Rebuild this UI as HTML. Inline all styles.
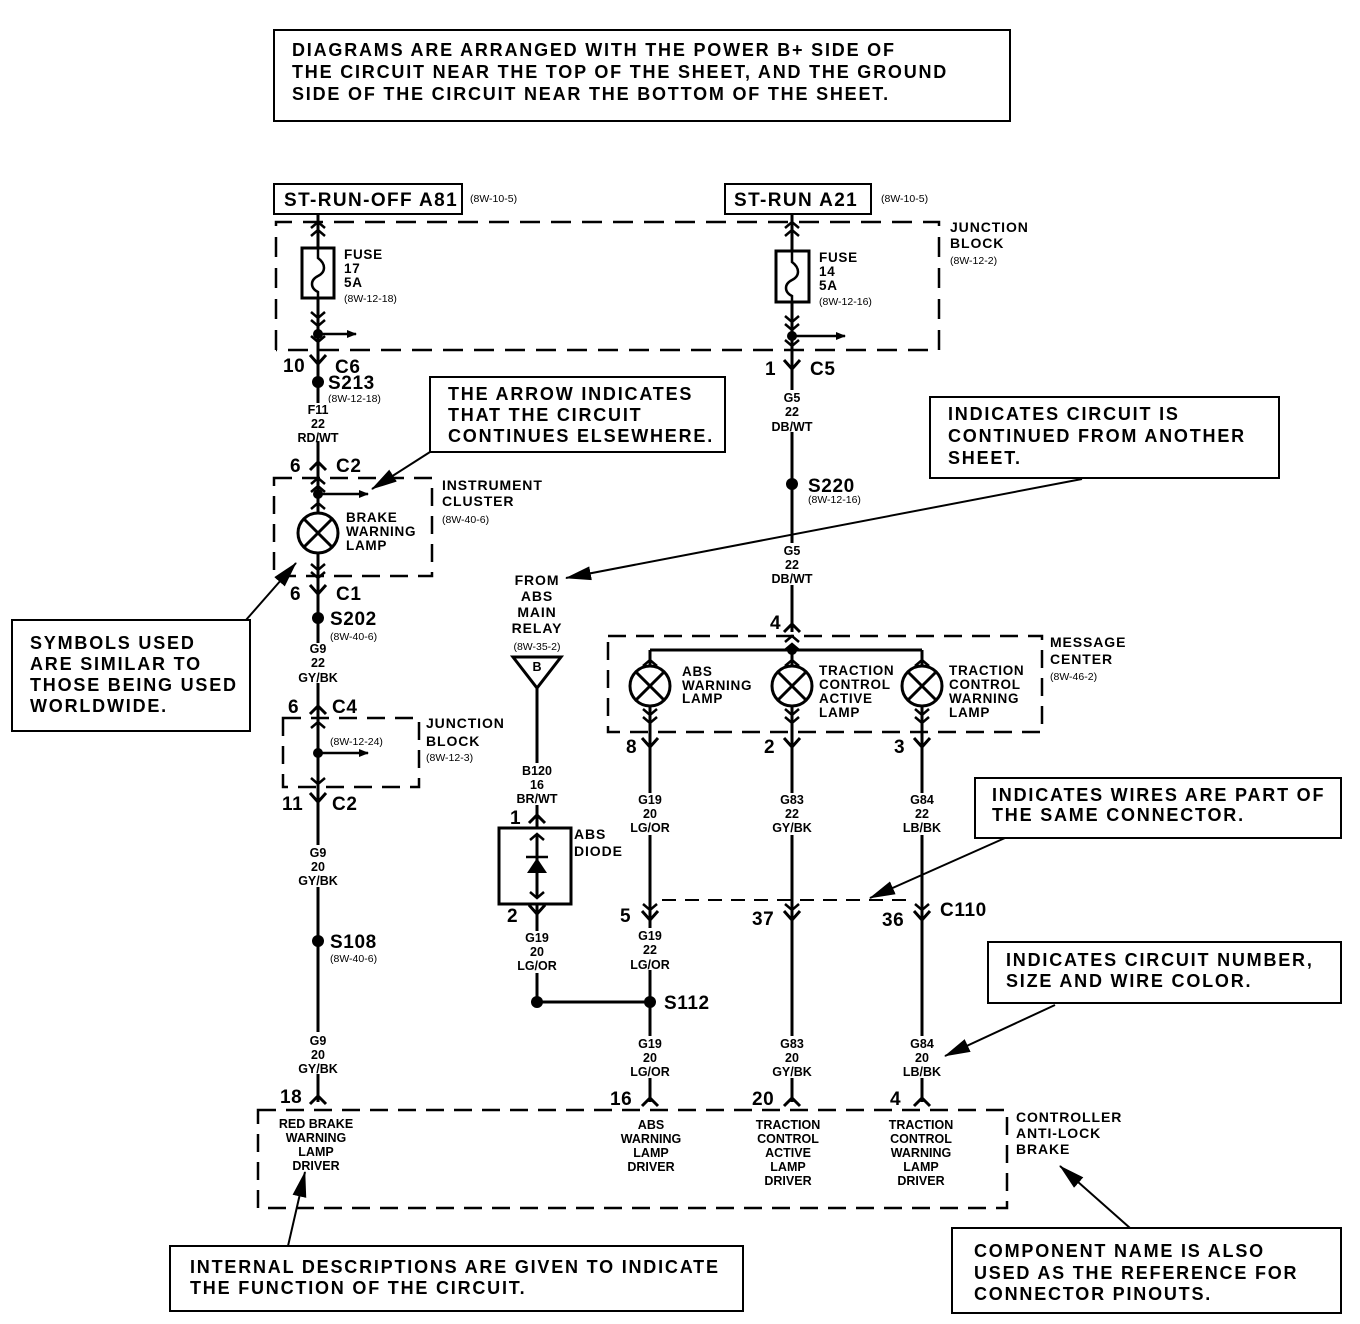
<!DOCTYPE html>
<html><head><meta charset="utf-8"><style>
html,body{margin:0;padding:0;background:#fff}
svg{display:block}
text{font-family:"Liberation Sans",Arial,sans-serif;font-weight:bold;fill:#000}
.c{font-size:18px;letter-spacing:1.8px}
.l{font-size:14px;letter-spacing:0.9px}
.m{font-size:13.5px;letter-spacing:0.7px}
.n{font-size:12.5px}
.s{font-size:10.5px;font-weight:normal}
.big{font-size:19px;letter-spacing:0.6px}
.hd{font-size:19px;letter-spacing:1.4px}
.mid{text-anchor:middle}
.w{stroke:#000;stroke-width:3;fill:none}
.t{stroke:#000;stroke-width:2;fill:none}
.d{stroke:#000;stroke-width:2.5;fill:none;stroke-dasharray:20 11}
.b{stroke:#000;stroke-width:2;fill:#fff}
</style></head><body>
<svg width="1360" height="1324" viewBox="0 0 1360 1324" xmlns="http://www.w3.org/2000/svg">
<defs>
<path id="fy" d="M-8,-9 L0,0 L8,-9" stroke="#000" stroke-width="3" fill="none"/>
<path id="lam" d="M-8,8 L0,0 L8,8" stroke="#000" stroke-width="3" fill="none"/>
<path id="up" d="M-7,6 L0,0 L7,6" stroke="#000" stroke-width="2.5" fill="none"/>
<path id="dn" d="M-7,-6 L0,0 L7,-6" stroke="#000" stroke-width="2.5" fill="none"/>
<g id="lamp"><circle r="20" fill="#fff" stroke="#000" stroke-width="3"/><path d="M-14,-14 L14,14 M14,-14 L-14,14" stroke="#000" stroke-width="3"/></g>
<marker id="ah" markerWidth="10" markerHeight="8" refX="9" refY="4" orient="auto" markerUnits="userSpaceOnUse"><path d="M0,0 L10,4 L0,8z" fill="#000"/></marker>
<marker id="ab" markerWidth="26" markerHeight="14" refX="25" refY="7" orient="auto" markerUnits="userSpaceOnUse"><path d="M0,0 L26,7 L0,14z" fill="#000"/></marker>
</defs>

<!-- top note -->
<rect x="274" y="30" width="736" height="91" class="b"/>
<text class="c" x="292" y="56">DIAGRAMS ARE ARRANGED WITH THE POWER B+ SIDE OF</text>
<text class="c" x="292" y="78">THE CIRCUIT NEAR THE TOP OF THE SHEET, AND THE GROUND</text>
<text class="c" x="292" y="100">SIDE OF THE CIRCUIT NEAR THE BOTTOM OF THE SHEET.</text>

<!-- source boxes -->
<rect x="274" y="184" width="188" height="30" class="b"/>
<text class="hd" x="284" y="206">ST-RUN-OFF A81</text>
<text class="s" x="470" y="202">(8W-10-5)</text>
<rect x="725" y="184" width="146" height="30" class="b"/>
<text class="hd" x="734" y="206">ST-RUN A21</text>
<text class="s" x="881" y="202">(8W-10-5)</text>

<!-- junction block top -->
<path class="d" d="M276,350 L276,222 L939,222 L939,350 L276,350"/>
<text class="l" x="950" y="232">JUNCTION</text>
<text class="l" x="950" y="248">BLOCK</text>
<text class="s" x="950" y="264">(8W-12-2)</text>

<!-- left wire main -->
<line class="w" x1="318" y1="214" x2="318" y2="1102"/>
<use href="#up" x="318" y="222"/><use href="#up" x="318" y="230"/>
<rect x="302" y="248" width="32" height="50" class="b" style="stroke-width:3"/>
<path class="t" d="M318,248 L318,258 C326,264 326,272 318,276 C310,280 310,288 318,292 L318,298" style="stroke-width:2.5"/>
<text class="m" x="344" y="259">FUSE</text><text class="m" x="344" y="273">17</text><text class="m" x="344" y="287">5A</text>
<text class="s" x="344" y="302">(8W-12-18)</text>
<use href="#dn" x="318" y="318"/><use href="#dn" x="318" y="326"/><use href="#dn" x="318" y="342"/>
<circle cx="318" cy="334" r="5"/>
<line class="t" x1="318" y1="334" x2="356" y2="334" marker-end="url(#ah)" style="stroke-width:2.5"/>
<use href="#fy" x="318" y="364"/>
<text class="big" x="283" y="372">10</text><text class="big" x="335" y="373">C6</text>
<circle cx="318" cy="382" r="6"/>
<text class="big" x="328" y="389">S213</text>
<text class="s" x="328" y="402">(8W-12-18)</text>
<rect x="300" y="403" width="36" height="38" fill="#fff"/>
<text class="n mid" x="318" y="414">F11</text><text class="n mid" x="318" y="428">22</text><text class="n mid" x="318" y="442">RD/WT</text>
<use href="#lam" x="318" y="462"/>
<text class="big" x="290" y="472">6</text><text class="big" x="336" y="472">C2</text>
<path class="d" d="M274,478 L432,478 L432,576 L274,576 Z" style="stroke-dasharray:18 10"/>
<use href="#up" x="318" y="478"/><use href="#up" x="318" y="486"/>
<circle cx="318" cy="494" r="5"/>
<line class="t" x1="318" y1="494" x2="368" y2="494" marker-end="url(#ah)" style="stroke-width:2.5"/>
<use href="#up" x="318" y="503"/>
<use href="#lamp" x="318" y="533"/>
<text class="m" x="346" y="522">BRAKE</text><text class="m" x="346" y="536">WARNING</text><text class="m" x="346" y="550">LAMP</text>
<text class="l" x="442" y="490">INSTRUMENT</text><text class="l" x="442" y="506">CLUSTER</text>
<text class="s" x="442" y="523">(8W-40-6)</text>
<use href="#dn" x="318" y="570"/><use href="#dn" x="318" y="578"/>
<use href="#fy" x="318" y="594"/>
<text class="big" x="290" y="600">6</text><text class="big" x="336" y="600">C1</text>
<circle cx="318" cy="618" r="6"/>
<text class="big" x="330" y="625">S202</text>
<text class="s" x="330" y="640">(8W-40-6)</text>
<rect x="300" y="643" width="36" height="40" fill="#fff"/>
<text class="n mid" x="318" y="653">G9</text><text class="n mid" x="318" y="667">22</text><text class="n mid" x="318" y="682">GY/BK</text>
<use href="#lam" x="318" y="706"/>
<text class="big" x="288" y="713">6</text><text class="big" x="332" y="713">C4</text>
<path class="d" d="M283,718 L419,718 L419,787 L283,787 Z" style="stroke-dasharray:18 10"/>
<use href="#up" x="318" y="722"/>
<text class="s" x="330" y="745">(8W-12-24)</text>
<circle cx="318" cy="753" r="5"/>
<line class="t" x1="318" y1="753" x2="368" y2="753" marker-end="url(#ah)" style="stroke-width:2.5"/>
<use href="#dn" x="318" y="784"/>
<text class="l" x="426" y="728">JUNCTION</text><text class="l" x="426" y="746">BLOCK</text>
<text class="s" x="426" y="761">(8W-12-3)</text>
<use href="#fy" x="318" y="802"/>
<text class="big" x="282" y="810">11</text><text class="big" x="332" y="810">C2</text>
<rect x="300" y="845" width="36" height="42" fill="#fff"/>
<text class="n mid" x="318" y="857">G9</text><text class="n mid" x="318" y="871">20</text><text class="n mid" x="318" y="885">GY/BK</text>
<circle cx="318" cy="941" r="6"/>
<text class="big" x="330" y="948">S108</text>
<text class="s" x="330" y="962">(8W-40-6)</text>
<rect x="300" y="1032" width="36" height="42" fill="#fff"/>
<text class="n mid" x="318" y="1045">G9</text><text class="n mid" x="318" y="1059">20</text><text class="n mid" x="318" y="1073">GY/BK</text>
<use href="#lam" x="318" y="1096"/>
<text class="big" x="280" y="1103">18</text>

<!-- right wire -->
<line class="w" x1="792" y1="214" x2="792" y2="632"/>
<use href="#up" x="792" y="222"/><use href="#up" x="792" y="230"/>
<rect x="776" y="251" width="33" height="51" class="b" style="stroke-width:3"/>
<path class="t" d="M792,251 L792,262 C800,268 800,276 792,280 C784,284 784,292 792,296 L792,302" style="stroke-width:2.5"/>
<text class="m" x="819" y="262">FUSE</text><text class="m" x="819" y="276">14</text><text class="m" x="819" y="290">5A</text>
<text class="s" x="819" y="305">(8W-12-16)</text>
<use href="#dn" x="792" y="322"/><use href="#dn" x="792" y="330"/><use href="#dn" x="792" y="346"/>
<circle cx="792" cy="336" r="5"/>
<line class="t" x1="792" y1="336" x2="845" y2="336" marker-end="url(#ah)" style="stroke-width:2.5"/>
<use href="#fy" x="792" y="369"/>
<text class="big" x="765" y="375">1</text><text class="big" x="810" y="375">C5</text>
<rect x="770" y="390" width="44" height="42" fill="#fff"/>
<text class="n mid" x="792" y="402">G5</text><text class="n mid" x="792" y="416">22</text><text class="n mid" x="792" y="431">DB/WT</text>
<circle cx="792" cy="484" r="6"/>
<text class="big" x="808" y="492">S220</text>
<text class="s" x="808" y="503">(8W-12-16)</text>
<rect x="770" y="543" width="44" height="42" fill="#fff"/>
<text class="n mid" x="792" y="555">G5</text><text class="n mid" x="792" y="569">22</text><text class="n mid" x="792" y="583">DB/WT</text>
<use href="#lam" x="792" y="624"/>
<text class="big" x="770" y="629">4</text>

<!-- message center -->
<path class="d" d="M608,636 L1042,636 L1042,732 L608,732 Z" style="stroke-dasharray:18 10"/>
<use href="#up" x="792" y="636"/><use href="#up" x="792" y="644"/>
<line class="w" x1="650" y1="650" x2="922" y2="650"/>
<circle cx="792" cy="650" r="5"/>
<line class="w" x1="650" y1="650" x2="650" y2="905"/>
<line class="w" x1="922" y1="650" x2="922" y2="1102"/>
<line class="w" x1="792" y1="650" x2="792" y2="1102"/>
<line class="w" x1="650" y1="905" x2="650" y2="1102"/>
<use href="#up" x="650" y="660"/><use href="#up" x="792" y="660"/><use href="#up" x="922" y="660"/>
<use href="#lamp" x="650" y="686"/><use href="#lamp" x="792" y="686"/><use href="#lamp" x="922" y="686"/>
<use href="#dn" x="650" y="715"/><use href="#dn" x="650" y="723"/>
<use href="#dn" x="792" y="715"/><use href="#dn" x="792" y="723"/>
<use href="#dn" x="922" y="715"/><use href="#dn" x="922" y="723"/>
<text class="m" x="682" y="676">ABS</text><text class="m" x="682" y="690">WARNING</text><text class="m" x="682" y="703">LAMP</text>
<text class="m" x="819" y="675">TRACTION</text><text class="m" x="819" y="689">CONTROL</text><text class="m" x="819" y="703">ACTIVE</text><text class="m" x="819" y="717">LAMP</text>
<text class="m" x="949" y="675">TRACTION</text><text class="m" x="949" y="689">CONTROL</text><text class="m" x="949" y="703">WARNING</text><text class="m" x="949" y="717">LAMP</text>
<text class="l" x="1050" y="647">MESSAGE</text><text class="l" x="1050" y="664">CENTER</text>
<text class="s" x="1050" y="680">(8W-46-2)</text>
<use href="#fy" x="650" y="747"/><use href="#fy" x="792" y="747"/><use href="#fy" x="922" y="747"/>
<text class="big" x="626" y="753">8</text><text class="big" x="764" y="753">2</text><text class="big" x="894" y="753">3</text>
<rect x="628" y="793" width="44" height="42" fill="#fff"/>
<rect x="770" y="793" width="44" height="42" fill="#fff"/>
<rect x="900" y="793" width="44" height="42" fill="#fff"/>
<text class="n mid" x="650" y="804">G19</text><text class="n mid" x="650" y="818">20</text><text class="n mid" x="650" y="832">LG/OR</text>
<text class="n mid" x="792" y="804">G83</text><text class="n mid" x="792" y="818">22</text><text class="n mid" x="792" y="832">GY/BK</text>
<text class="n mid" x="922" y="804">G84</text><text class="n mid" x="922" y="818">22</text><text class="n mid" x="922" y="832">LB/BK</text>
<!-- C110 -->
<line class="t" x1="662" y1="900" x2="912" y2="900" style="stroke-dasharray:14 9"/>
<use href="#dn" x="650" y="910"/><use href="#fy" x="650" y="920"/>
<use href="#dn" x="792" y="910"/><use href="#fy" x="792" y="920"/>
<use href="#dn" x="922" y="910"/><use href="#fy" x="922" y="920"/>
<text class="big" x="620" y="922">5</text><text class="big" x="752" y="925">37</text><text class="big" x="882" y="926">36</text>
<text class="big" x="940" y="916">C110</text>
<rect x="628" y="928" width="44" height="42" fill="#fff"/>
<text class="n mid" x="650" y="940">G19</text><text class="n mid" x="650" y="954">22</text><text class="n mid" x="650" y="969">LG/OR</text>
<line class="w" x1="537" y1="1002" x2="650" y2="1002"/>
<circle cx="537" cy="1002" r="6"/><circle cx="650" cy="1002" r="6"/>
<text class="big" x="664" y="1009">S112</text>
<rect x="628" y="1036" width="44" height="42" fill="#fff"/>
<rect x="770" y="1036" width="44" height="42" fill="#fff"/>
<rect x="900" y="1036" width="44" height="42" fill="#fff"/>
<text class="n mid" x="650" y="1048">G19</text><text class="n mid" x="650" y="1062">20</text><text class="n mid" x="650" y="1076">LG/OR</text>
<text class="n mid" x="792" y="1048">G83</text><text class="n mid" x="792" y="1062">20</text><text class="n mid" x="792" y="1076">GY/BK</text>
<text class="n mid" x="922" y="1048">G84</text><text class="n mid" x="922" y="1062">20</text><text class="n mid" x="922" y="1076">LB/BK</text>
<use href="#lam" x="650" y="1098"/><use href="#lam" x="792" y="1098"/><use href="#lam" x="922" y="1098"/>
<text class="big" x="610" y="1105">16</text><text class="big" x="752" y="1105">20</text><text class="big" x="890" y="1105">4</text>

<!-- controller -->
<path class="d" d="M258,1110 L1007,1110 L1007,1208 L258,1208 Z" style="stroke-dasharray:18 10"/>
<text class="n mid" x="316" y="1128">RED BRAKE</text><text class="n mid" x="316" y="1142">WARNING</text><text class="n mid" x="316" y="1156">LAMP</text><text class="n mid" x="316" y="1170">DRIVER</text>
<text class="n mid" x="651" y="1129">ABS</text><text class="n mid" x="651" y="1143">WARNING</text><text class="n mid" x="651" y="1157">LAMP</text><text class="n mid" x="651" y="1171">DRIVER</text>
<text class="n mid" x="788" y="1129">TRACTION</text><text class="n mid" x="788" y="1143">CONTROL</text><text class="n mid" x="788" y="1157">ACTIVE</text><text class="n mid" x="788" y="1171">LAMP</text><text class="n mid" x="788" y="1185">DRIVER</text>
<text class="n mid" x="921" y="1129">TRACTION</text><text class="n mid" x="921" y="1143">CONTROL</text><text class="n mid" x="921" y="1157">WARNING</text><text class="n mid" x="921" y="1171">LAMP</text><text class="n mid" x="921" y="1185">DRIVER</text>
<text class="l" x="1016" y="1122">CONTROLLER</text><text class="l" x="1016" y="1138">ANTI-LOCK</text><text class="l" x="1016" y="1154">BRAKE</text>

<!-- ABS relay & diode -->
<text class="l mid" x="537" y="585">FROM</text><text class="l mid" x="537" y="601">ABS</text><text class="l mid" x="537" y="617">MAIN</text><text class="l mid" x="537" y="633">RELAY</text>
<text class="s mid" x="537" y="650">(8W-35-2)</text>
<path d="M513,657 L561,657 L537,688 Z" fill="#fff" stroke="#000" stroke-width="3"/>
<text class="n mid" x="537" y="671">B</text>
<line class="w" x1="537" y1="688" x2="537" y2="1002"/>
<rect x="515" y="763" width="44" height="42" fill="#fff"/>
<text class="n mid" x="537" y="775">B120</text><text class="n mid" x="537" y="789">16</text><text class="n mid" x="537" y="803">BR/WT</text>
<use href="#lam" x="537" y="815"/>
<text class="big" x="510" y="824">1</text>
<rect x="499" y="828" width="72" height="76" fill="#fff" stroke="#000" stroke-width="3"/>
<line class="w" x1="537" y1="834" x2="537" y2="898"/>
<use href="#up" x="537" y="834"/>
<path d="M527,873 L547,873 L537,858 Z" fill="#000"/>
<line class="w" x1="526" y1="857" x2="548" y2="857" style="stroke-width:2.5"/>
<use href="#dn" x="537" y="898"/>
<text class="l" x="574" y="839">ABS</text><text class="l" x="574" y="856">DIODE</text>
<use href="#fy" x="537" y="914"/>
<text class="big" x="507" y="922">2</text>
<rect x="515" y="931" width="44" height="42" fill="#fff"/>
<text class="n mid" x="537" y="942">G19</text><text class="n mid" x="537" y="956">20</text><text class="n mid" x="537" y="970">LG/OR</text>

<!-- callouts -->
<rect x="430" y="377" width="295" height="75" class="b"/>
<text class="c" x="448" y="400">THE ARROW INDICATES</text>
<text class="c" x="448" y="421">THAT THE CIRCUIT</text>
<text class="c" x="448" y="442">CONTINUES ELSEWHERE.</text>
<line class="t" x1="430" y1="452" x2="372" y2="489" marker-end="url(#ab)"/>

<rect x="930" y="397" width="349" height="81" class="b"/>
<text class="c" x="948" y="420">INDICATES CIRCUIT IS</text>
<text class="c" x="948" y="442">CONTINUED FROM ANOTHER</text>
<text class="c" x="948" y="464">SHEET.</text>
<line class="t" x1="1082" y1="479" x2="566" y2="578" marker-end="url(#ab)"/>

<rect x="12" y="620" width="238" height="111" class="b"/>
<text class="c" x="30" y="649">SYMBOLS USED</text>
<text class="c" x="30" y="670">ARE SIMILAR TO</text>
<text class="c" x="30" y="691">THOSE BEING USED</text>
<text class="c" x="30" y="712">WORLDWIDE.</text>
<line class="t" x1="246" y1="620" x2="296" y2="563" marker-end="url(#ab)"/>

<rect x="975" y="778" width="366" height="60" class="b"/>
<text class="c" x="992" y="801">INDICATES WIRES ARE PART OF</text>
<text class="c" x="992" y="821">THE SAME CONNECTOR.</text>
<line class="t" x1="1005" y1="838" x2="870" y2="898" marker-end="url(#ab)"/>

<rect x="988" y="942" width="353" height="61" class="b"/>
<text class="c" x="1006" y="966">INDICATES CIRCUIT NUMBER,</text>
<text class="c" x="1006" y="987">SIZE AND WIRE COLOR.</text>
<line class="t" x1="1055" y1="1005" x2="945" y2="1056" marker-end="url(#ab)"/>

<rect x="170" y="1246" width="573" height="65" class="b"/>
<text class="c" x="190" y="1273">INTERNAL DESCRIPTIONS ARE GIVEN TO INDICATE</text>
<text class="c" x="190" y="1294">THE FUNCTION OF THE CIRCUIT.</text>
<line class="t" x1="288" y1="1246" x2="305" y2="1172" marker-end="url(#ab)"/>

<rect x="952" y="1228" width="389" height="85" class="b"/>
<text class="c" x="974" y="1257">COMPONENT NAME IS ALSO</text>
<text class="c" x="974" y="1279">USED AS THE REFERENCE FOR</text>
<text class="c" x="974" y="1300">CONNECTOR PINOUTS.</text>
<line class="t" x1="1130" y1="1228" x2="1060" y2="1166" marker-end="url(#ab)"/>
</svg>
</body></html>
